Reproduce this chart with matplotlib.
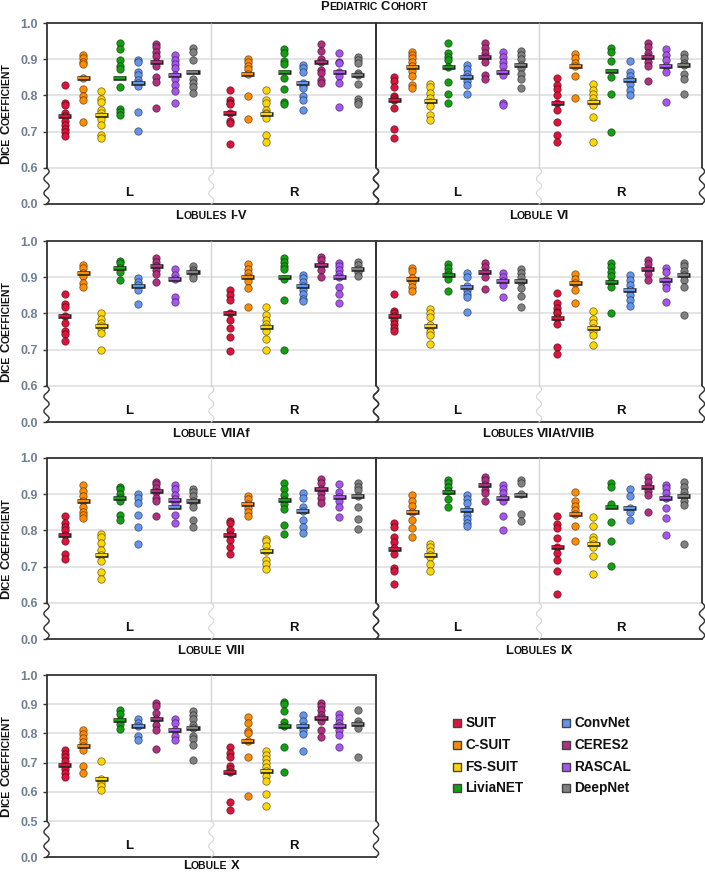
import numpy as np
import matplotlib
matplotlib.use('Agg')
import matplotlib.pyplot as plt
from matplotlib.lines import Line2D

FONT = ['Liberation Sans', 'DejaVu Sans']
plt.rcParams['font.family'] = FONT

# ---------------- data ----------------
methods = ['SUIT', 'C-SUIT', 'FS-SUIT', 'LiviaNET', 'ConvNet', 'CERES2', 'RASCAL', 'DeepNet']
colors = ['#DC143C', '#FF8C00', '#FFD700', '#12A012', '#6495ED', '#B03080', '#A855F0', '#808080']
sides = ['L', 'R']

i_v_L = [
    [0.829, 0.780, 0.774, 0.751, 0.742, 0.730, 0.719, 0.708, 0.700, 0.689],
    [0.911, 0.902, 0.893, 0.886, 0.849, 0.819, 0.797, 0.787, 0.726],
    [0.812, 0.791, 0.781, 0.760, 0.751, 0.744, 0.734, 0.719, 0.691, 0.682],
    [0.944, 0.929, 0.898, 0.880, 0.874, 0.822, 0.762, 0.755, 0.745],
    [0.898, 0.891, 0.866, 0.856, 0.843, 0.835, 0.827, 0.755, 0.702],
    [0.941, 0.933, 0.921, 0.909, 0.891, 0.882, 0.852, 0.838, 0.764],
    [0.912, 0.898, 0.886, 0.875, 0.857, 0.845, 0.829, 0.813, 0.780],
    [0.930, 0.921, 0.898, 0.845, 0.833, 0.822, 0.808],
]
i_v_L_med = [0.743, 0.849, 0.745, 0.849, 0.835, 0.891, 0.857, 0.864]
i_v_R = [
    [0.815, 0.786, 0.780, 0.775, 0.751, 0.728, 0.724, 0.665],
    [0.900, 0.891, 0.882, 0.872, 0.859, 0.799, 0.735],
    [0.815, 0.787, 0.780, 0.760, 0.751, 0.748, 0.737, 0.691, 0.672],
    [0.927, 0.918, 0.896, 0.887, 0.847, 0.818, 0.781, 0.776],
    [0.884, 0.875, 0.865, 0.835, 0.826, 0.820, 0.799, 0.787, 0.760],
    [0.942, 0.924, 0.901, 0.891, 0.870, 0.861, 0.843, 0.835],
    [0.918, 0.893, 0.889, 0.865, 0.854, 0.833, 0.769],
    [0.905, 0.898, 0.889, 0.863, 0.857, 0.831, 0.790, 0.783, 0.776],
]
i_v_R_med = [0.751, 0.859, 0.748, 0.864, 0.835, 0.891, 0.865, 0.857]

vi_L = [
    [0.850, 0.841, 0.824, 0.799, 0.792, 0.787, 0.766, 0.708, 0.681],
    [0.921, 0.912, 0.902, 0.893, 0.880, 0.868, 0.854, 0.829, 0.820],
    [0.832, 0.822, 0.806, 0.792, 0.783, 0.771, 0.746, 0.732],
    [0.944, 0.917, 0.907, 0.898, 0.878, 0.838, 0.803, 0.780],
    [0.883, 0.872, 0.859, 0.850, 0.841, 0.829, 0.803],
    [0.944, 0.930, 0.918, 0.907, 0.893, 0.856, 0.845],
    [0.921, 0.907, 0.893, 0.881, 0.864, 0.856, 0.780, 0.774],
    [0.923, 0.912, 0.900, 0.883, 0.875, 0.859, 0.845, 0.820],
]
vi_L_med = [0.787, 0.879, 0.785, 0.879, 0.850, 0.907, 0.864, 0.883]
vi_R = [
    [0.847, 0.829, 0.817, 0.801, 0.778, 0.760, 0.726, 0.691, 0.670],
    [0.914, 0.902, 0.889, 0.880, 0.854, 0.792],
    [0.831, 0.815, 0.804, 0.792, 0.783, 0.774, 0.739, 0.672],
    [0.930, 0.921, 0.895, 0.850, 0.803, 0.700],
    [0.895, 0.866, 0.854, 0.843, 0.832, 0.815, 0.801],
    [0.944, 0.935, 0.918, 0.905, 0.893, 0.880, 0.841],
    [0.928, 0.912, 0.898, 0.881, 0.866, 0.782],
    [0.914, 0.902, 0.889, 0.883, 0.859, 0.845, 0.804],
]
vi_R_med = [0.778, 0.880, 0.783, 0.868, 0.843, 0.905, 0.881, 0.883]

viiaf_L = [
    [0.853, 0.826, 0.817, 0.793, 0.774, 0.752, 0.743, 0.724],
    [0.934, 0.926, 0.911, 0.903, 0.883, 0.874],
    [0.800, 0.784, 0.774, 0.765, 0.759, 0.747, 0.700],
    [0.945, 0.938, 0.926, 0.915, 0.892],
    [0.897, 0.888, 0.878, 0.866, 0.826],
    [0.952, 0.943, 0.931, 0.920, 0.909, 0.886],
    [0.924, 0.906, 0.894, 0.846, 0.832],
    [0.931, 0.920, 0.915, 0.906, 0.899],
]
viiaf_L_med = [0.793, 0.911, 0.765, 0.926, 0.877, 0.931, 0.894, 0.915]
viiaf_R = [
    [0.866, 0.851, 0.837, 0.802, 0.782, 0.759, 0.735, 0.696],
    [0.936, 0.922, 0.911, 0.900, 0.890, 0.869, 0.817],
    [0.817, 0.795, 0.783, 0.772, 0.763, 0.752, 0.728, 0.700],
    [0.952, 0.943, 0.931, 0.922, 0.895, 0.837, 0.700],
    [0.906, 0.897, 0.888, 0.876, 0.865, 0.853, 0.841, 0.834],
    [0.957, 0.947, 0.935, 0.920, 0.901],
    [0.940, 0.931, 0.920, 0.909, 0.900, 0.872, 0.853, 0.828],
    [0.943, 0.934, 0.924, 0.915, 0.903],
]
viiaf_R_med = [0.802, 0.900, 0.763, 0.900, 0.876, 0.935, 0.900, 0.924]

viiat_L = [
    [0.853, 0.806, 0.800, 0.793, 0.782, 0.771, 0.761, 0.752],
    [0.926, 0.918, 0.897, 0.886, 0.874, 0.862],
    [0.812, 0.800, 0.789, 0.767, 0.759, 0.749, 0.740, 0.715],
    [0.936, 0.926, 0.915, 0.906, 0.895, 0.862],
    [0.912, 0.901, 0.876, 0.865, 0.853, 0.844, 0.803],
    [0.940, 0.929, 0.915, 0.901, 0.867],
    [0.912, 0.901, 0.890, 0.878, 0.844],
    [0.922, 0.912, 0.900, 0.888, 0.869, 0.849, 0.818],
]
viiat_L_med = [0.793, 0.896, 0.766, 0.906, 0.874, 0.915, 0.890, 0.889]
viiat_R = [
    [0.855, 0.829, 0.814, 0.805, 0.800, 0.786, 0.771, 0.708, 0.688],
    [0.909, 0.895, 0.883, 0.865, 0.830],
    [0.806, 0.784, 0.774, 0.761, 0.751, 0.740, 0.714],
    [0.940, 0.929, 0.915, 0.903, 0.888, 0.872, 0.800],
    [0.906, 0.892, 0.878, 0.865, 0.851, 0.837, 0.820],
    [0.947, 0.936, 0.924, 0.909, 0.892],
    [0.926, 0.915, 0.892, 0.881, 0.869, 0.832],
    [0.940, 0.931, 0.918, 0.905, 0.892, 0.872, 0.795],
]
viiat_R_med = [0.787, 0.883, 0.761, 0.887, 0.865, 0.924, 0.892, 0.905]

viii_L = [
    [0.839, 0.820, 0.809, 0.800, 0.788, 0.772, 0.735, 0.721],
    [0.926, 0.910, 0.895, 0.880, 0.866, 0.852, 0.843, 0.834],
    [0.790, 0.781, 0.765, 0.747, 0.733, 0.715, 0.684, 0.666],
    [0.921, 0.914, 0.901, 0.889, 0.880, 0.843, 0.828],
    [0.901, 0.889, 0.875, 0.843, 0.809, 0.762],
    [0.935, 0.928, 0.917, 0.907, 0.889, 0.880, 0.839],
    [0.926, 0.914, 0.898, 0.886, 0.875, 0.843, 0.820],
    [0.914, 0.905, 0.894, 0.882, 0.875, 0.866, 0.829, 0.809],
]
viii_L_med = [0.788, 0.880, 0.733, 0.889, 0.866, 0.909, 0.884, 0.882]
viii_R = [
    [0.827, 0.820, 0.800, 0.788, 0.774, 0.753, 0.735],
    [0.895, 0.886, 0.873, 0.863, 0.852, 0.839],
    [0.776, 0.770, 0.758, 0.744, 0.717, 0.708, 0.694],
    [0.932, 0.914, 0.898, 0.884, 0.873, 0.860, 0.816, 0.790],
    [0.903, 0.889, 0.866, 0.854, 0.829, 0.809, 0.794],
    [0.941, 0.932, 0.914, 0.903, 0.889, 0.877],
    [0.928, 0.907, 0.892, 0.880, 0.864, 0.837],
    [0.932, 0.921, 0.912, 0.895, 0.866, 0.832, 0.804],
]
viii_R_med = [0.787, 0.873, 0.744, 0.884, 0.854, 0.915, 0.892, 0.895]

ix_L = [
    [0.820, 0.809, 0.782, 0.768, 0.751, 0.736, 0.696, 0.689, 0.653],
    [0.898, 0.880, 0.868, 0.852, 0.829, 0.806, 0.783],
    [0.763, 0.754, 0.742, 0.733, 0.726, 0.706, 0.689],
    [0.938, 0.930, 0.919, 0.910, 0.886, 0.866],
    [0.898, 0.886, 0.875, 0.857, 0.843, 0.831, 0.820, 0.811],
    [0.947, 0.938, 0.926, 0.912, 0.903, 0.880],
    [0.926, 0.914, 0.903, 0.889, 0.882, 0.840, 0.800],
    [0.939, 0.930, 0.901, 0.846, 0.825],
]
ix_L_med = [0.750, 0.850, 0.733, 0.907, 0.857, 0.926, 0.889, 0.898]
ix_R = [
    [0.840, 0.818, 0.806, 0.779, 0.754, 0.738, 0.719, 0.689, 0.623],
    [0.907, 0.882, 0.868, 0.855, 0.846, 0.811, 0.772],
    [0.837, 0.811, 0.783, 0.774, 0.763, 0.753, 0.730, 0.680],
    [0.932, 0.921, 0.873, 0.823, 0.772, 0.703],
    [0.914, 0.894, 0.863, 0.852, 0.829],
    [0.947, 0.935, 0.921, 0.910, 0.898, 0.852],
    [0.926, 0.917, 0.903, 0.889, 0.861, 0.834, 0.788],
    [0.935, 0.921, 0.907, 0.894, 0.880, 0.871, 0.762],
]
ix_R_med = [0.753, 0.846, 0.762, 0.866, 0.863, 0.921, 0.889, 0.894]

x_L = [
    [0.742, 0.731, 0.719, 0.704, 0.689, 0.678, 0.664, 0.651],
    [0.813, 0.799, 0.784, 0.771, 0.758, 0.742, 0.687, 0.664],
    [0.704, 0.644, 0.632, 0.621, 0.607],
    [0.879, 0.868, 0.847, 0.833, 0.815],
    [0.849, 0.836, 0.824, 0.792, 0.779],
    [0.904, 0.893, 0.870, 0.849, 0.830, 0.813, 0.748],
    [0.849, 0.836, 0.813, 0.792, 0.776],
    [0.876, 0.864, 0.849, 0.830, 0.818, 0.792, 0.781, 0.761, 0.710],
]
x_L_med = [0.691, 0.758, 0.644, 0.847, 0.824, 0.849, 0.813, 0.818]
x_R = [
    [0.752, 0.733, 0.719, 0.689, 0.678, 0.668, 0.564, 0.539],
    [0.856, 0.836, 0.809, 0.801, 0.775, 0.719, 0.587],
    [0.739, 0.727, 0.713, 0.699, 0.685, 0.670, 0.653, 0.636, 0.594, 0.553],
    [0.906, 0.901, 0.878, 0.838, 0.824, 0.753, 0.667],
    [0.864, 0.841, 0.824, 0.811, 0.799, 0.739],
    [0.904, 0.893, 0.881, 0.864, 0.853, 0.844, 0.811, 0.788],
    [0.866, 0.853, 0.836, 0.824, 0.811, 0.796, 0.752],
    [0.881, 0.841, 0.833, 0.818, 0.721],
]
x_R_med = [0.668, 0.775, 0.670, 0.824, 0.824, 0.853, 0.824, 0.833]

panel_titles = ['Lobules I-V', 'Lobule VI', 'Lobule VIIAf', 'Lobules VIIAt/VIIB',
                'Lobule VIII', 'Lobules IX', 'Lobule X']
panel_data = [
    (i_v_L, i_v_L_med, i_v_R, i_v_R_med),
    (vi_L, vi_L_med, vi_R, vi_R_med),
    (viiaf_L, viiaf_L_med, viiaf_R, viiaf_R_med),
    (viiat_L, viiat_L_med, viiat_R, viiat_R_med),
    (viii_L, viii_L_med, viii_R, viii_R_med),
    (ix_L, ix_L_med, ix_R, ix_R_med),
    (x_L, x_L_med, x_R, x_R_med),
]
# In the source, the ConvNet median mark of Lobule VIII (L) sits at the RASCAL column
median_column_override = {(4, 0, 4): 6}

yticks_std = [0.5, 0.6, 0.7, 0.8, 0.9, 1.0]
yticklabels_std = ['0.0', '0.6', '0.7', '0.8', '0.9', '1.0']
grid_std = [0.6, 0.7, 0.8, 0.9]
yticks_x = [0.377, 0.5, 0.6, 0.7, 0.8, 0.9, 1.0]
yticklabels_x = ['0.0', '0.5', '0.6', '0.7', '0.8', '0.9', '1.0']
grid_x = [0.5, 0.6, 0.7, 0.8, 0.9]

# ---------------- layout ----------------
W, H = 705, 873
fig = plt.figure(figsize=(W / 100, H / 100), dpi=100)
renderer = fig.canvas.get_renderer()

def fx(px):
    return px / W

def fy(py):
    return 1 - py / H

ROW_TOP = [23, 241, 458, 675]
ROW_BOT = [204, 422, 639, 857]
COLS = [(46.5, 376.0), (376.0, 702.0)]
SPINE = '#333333'
TICKC = '#6f7f93'


def smallcaps(x, y, s, big=9.4, small=7.5, rotation=0, literal_from=None, color='#111111'):
    runs = []
    for idx, ch in enumerate(s):
        if ch == ' ':
            runs.append([None, big])
            continue
        literal = literal_from is not None and idx >= literal_from
        if ch.islower() and not literal:
            t, sz = ch.upper(), small
        else:
            t, sz = ch, big
        if runs and runs[-1][0] is not None and runs[-1][1] == sz:
            runs[-1][0] += t
        else:
            runs.append([t, sz])
    widths = []
    for t, sz in runs:
        if t is None:
            widths.append(0.28 * sz * 100 / 72)
        else:
            tmp = fig.text(0, 0, t, fontsize=sz, fontweight='bold')
            widths.append(tmp.get_window_extent(renderer).width)
            tmp.remove()
    pos = -sum(widths) / 2
    for (t, sz), w in zip(runs, widths):
        if t is not None:
            if rotation == 0:
                fig.text(fx(x + pos), fy(y), t, fontsize=sz, fontweight='bold', color=color,
                         ha='left', va='baseline')
            else:
                fig.text(fx(x), fy(y - pos), t, fontsize=sz, fontweight='bold', color=color,
                         ha='left', va='baseline', rotation=90, rotation_mode='anchor')
        pos += w


def border(ax, xa, yb, w_px, color, lw):
    ax.plot([xa, xa], [yb, 1], transform=ax.transAxes, color=color, lw=lw,
            clip_on=False, solid_capstyle='butt', zorder=5)
    t = np.linspace(0, 1, 120)
    amp = 2.6 / w_px
    ax.plot(xa + amp * np.sin(2 * np.pi * 2.5 * t), yb * (1 - t), transform=ax.transAxes,
            color=color, lw=lw * 0.8, clip_on=False, zorder=5)


for p, (title, (dl, ml, dr, mr)) in enumerate(zip(panel_titles, panel_data)):
    row, col = divmod(p, 2)
    x0, x1 = COLS[col]
    top, bot = ROW_TOP[row], ROW_BOT[row]
    ax = fig.add_axes([fx(x0), fy(bot), (x1 - x0) / W, (bot - top) / H])
    last = row == 3
    ymin = 0.377 if last else 0.5
    ybreak = 0.5 if last else 0.6
    ax.set_xlim(0, 18)
    ax.set_ylim(ymin, 1.0)
    ax.patch.set_alpha(0)
    for sp in ['left', 'right']:
        ax.spines[sp].set_visible(False)
    for sp in ['top', 'bottom']:
        ax.spines[sp].set_color(SPINE)
        ax.spines[sp].set_linewidth(1.3)
    ax.set_xticks([])
    for g in (grid_x if last else grid_std):
        ax.axhline(g, color='#e2e2e2', lw=1.3, zorder=0)

    if col == 0:
        ax.set_yticks(yticks_x if last else yticks_std)
        ax.set_yticklabels(yticklabels_x if last else yticklabels_std)
        ax.tick_params(axis='y', length=3, width=1, color=SPINE, labelcolor=TICKC,
                       labelsize=9, pad=3)
        for lab in ax.get_yticklabels():
            lab.set_fontweight('bold')
        smallcaps(9.5, (top + bot) / 2, 'Dice Coefficient', rotation=90)
    else:
        ax.set_yticks([])

    for s, (data, meds, off) in enumerate([(dl, ml, 1), (dr, mr, 10)]):
        for i, (vals, m) in enumerate(zip(data, meds)):
            xpos = off + i
            ax.scatter(np.full(len(vals), xpos), vals, s=29, c=colors[i],
                       edgecolors=(0, 0, 0, 0.5), linewidths=0.6, zorder=3)
            mx = off + median_column_override.get((p, s, i), i)
            ax.plot([mx - 0.36, mx + 0.36], [m, m], color='#222222', lw=3.3,
                    solid_capstyle='butt', zorder=4)
            ax.plot([mx - 0.30, mx + 0.30], [m, m], color=colors[i], lw=1.7,
                    solid_capstyle='butt', zorder=4.1)
        ax.text(4.5 + 9 * s, 0.062, sides[s], transform=ax.get_xaxis_transform(),
                ha='center', va='center', fontsize=9.5, fontweight='bold', color='#111111')

    yb = (ybreak - ymin) / (1 - ymin)
    w_px = x1 - x0
    border(ax, 0, yb, w_px, SPINE, 1.3)
    border(ax, 1, yb, w_px, SPINE, 1.3)
    border(ax, 0.5, yb, w_px, '#d4d4d4', 1.0)

    first_space = title.index(' ')
    smallcaps((x0 + x1) / 2, min(bot + 15, 869), title, literal_from=first_space)

# title
smallcaps(374, 10, 'Pediatric Cohort')

# legend
leg_x = [457, 566]
leg_y = [723, 745, 767, 788]
for i, (name, c) in enumerate(zip(methods, colors)):
    cx = leg_x[i // 4]
    cy = leg_y[i % 4]
    fig.add_artist(Line2D([fx(cx)], [fy(cy)], marker='s', ms=5.6, mfc=c, mec='#444444',
                          mew=1.0, ls='', transform=fig.transFigure))
    fig.text(fx(cx + 8.5), fy(cy), name, fontsize=9.8, fontweight='bold', color='#111111',
             ha='left', va='center')

fig.savefig('out.png', dpi=100)
